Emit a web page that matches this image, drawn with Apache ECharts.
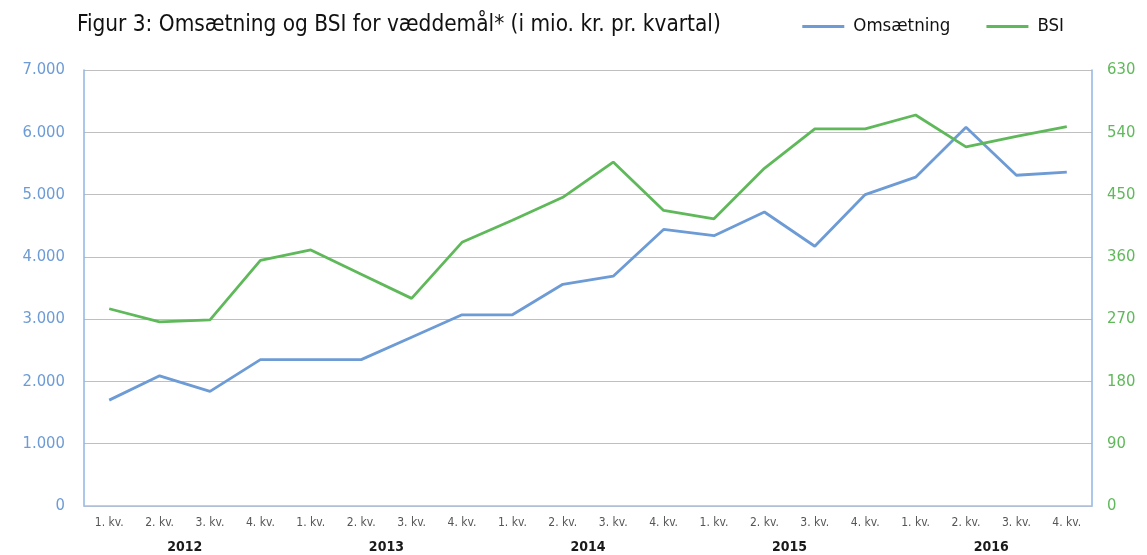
<!DOCTYPE html>
<html>
<head>
<meta charset="utf-8">
<script src="https://cdn.jsdelivr.net/npm/echarts@6/dist/echarts.min.js"></script>
<style>
  html, body { margin: 0; padding: 0; background: #fff; }
  #chart { width: 1147px; height: 555px; }
</style>
</head>
<body>
<div id="chart"></div>
<script>
// kvartaler og år
var quarters = ["1. kv.", "2. kv.", "3. kv.", "4. kv.",
                "1. kv.", "2. kv.", "3. kv.", "4. kv.",
                "1. kv.", "2. kv.", "3. kv.", "4. kv.",
                "1. kv.", "2. kv.", "3. kv.", "4. kv.",
                "1. kv.", "2. kv.", "3. kv.", "4. kv."];
var years = ["2012", "2013", "2014", "2015", "2016"];

// mio. kr.
var omsaetning = [1700, 2090, 1840, 2350, 2350, 2350, 2710, 3070, 3070, 3560,
                  3690, 4440, 4340, 4720, 4170, 5000, 5280, 6080, 5310, 5360];
var bsi = [285, 266, 269, 355, 370, 335, 300, 381, 413, 446,
           497, 427, 415, 488, 545, 545, 565, 519, 534, 548];

var leftTicks = { min: 0, max: 7000, interval: 1000 };
var rightTicks = { min: 0, max: 630, interval: 90 };

var blue = "#6d9bd6";
var green = "#5fb95a";
var font = "'Liberation Sans Narrow', 'DejaVu Sans Condensed', sans-serif";

function dk(v) {
  return String(v).replace(/\B(?=(\d{3})+(?!\d))/g, ".");
}

var myChart = echarts.init(document.getElementById("chart"));

var option = {
  animation: false,
  title: {
    text: "Figur 3: Omsætning og BSI for væddemål* (i mio. kr. pr. kvartal)",
    left: 72,
    top: 9,
    textStyle: { fontFamily: font, fontSize: 22.4, fontWeight: "normal", color: "#111" }
  },
  legend: {
    right: 78,
    top: 12,
    itemWidth: 42,
    itemHeight: 3,
    itemGap: 36,
    icon: "rect",
    textStyle: { fontFamily: font, fontSize: 18.5, color: "#111", padding: [0, 0, 0, 4] },
    data: ["Omsætning", "BSI"]
  },
  grid: { left: 84, right: 55, top: 70, bottom: 49, containLabel: false },
  xAxis: [
    {
      type: "category",
      data: quarters,
      boundaryGap: true,
      axisLine: { lineStyle: { color: "#a9c0df", width: 1.5 } },
      axisTick: { show: false },
      axisLabel: { margin: 11, fontFamily: font, fontSize: 12, color: "#555" }
    },
    {
      type: "category",
      data: years,
      position: "bottom",
      offset: 26,
      boundaryGap: true,
      axisLine: { show: false },
      axisTick: { show: false },
      axisLabel: { margin: 8, fontFamily: font, fontSize: 14, fontWeight: "bold", color: "#1a1a1a" }
    }
  ],
  yAxis: [
    {
      type: "value",
      min: leftTicks.min,
      max: leftTicks.max,
      interval: leftTicks.interval,
      axisLine: { show: true, lineStyle: { color: "#8fb4e3", width: 1.5 } },
      axisTick: { show: false },
      splitLine: { lineStyle: { color: "#bfbfbf", width: 1.2 } },
      axisLabel: {
        margin: 19, fontFamily: font, fontSize: 16.5, color: blue,
        formatter: function (v) { return dk(v); }
      }
    },
    {
      type: "value",
      min: rightTicks.min,
      max: rightTicks.max,
      interval: rightTicks.interval,
      axisLine: { show: true, lineStyle: { color: "#8fb4e3", width: 1.5 } },
      axisTick: { show: false },
      splitLine: { show: false },
      axisLabel: { margin: 15, fontFamily: font, fontSize: 16.5, color: green }
    }
  ],
  series: [
    {
      name: "Omsætning",
      type: "line",
      xAxisIndex: 0,
      yAxisIndex: 0,
      data: omsaetning,
      symbol: "none",
      itemStyle: { color: blue },
      lineStyle: { color: blue, width: 2.8 }
    },
    {
      name: "BSI",
      type: "line",
      xAxisIndex: 0,
      yAxisIndex: 1,
      data: bsi,
      symbol: "none",
      itemStyle: { color: green },
      lineStyle: { color: green, width: 2.8 }
    }
  ]
};
myChart.setOption(option);
</script>
</body>
</html>
